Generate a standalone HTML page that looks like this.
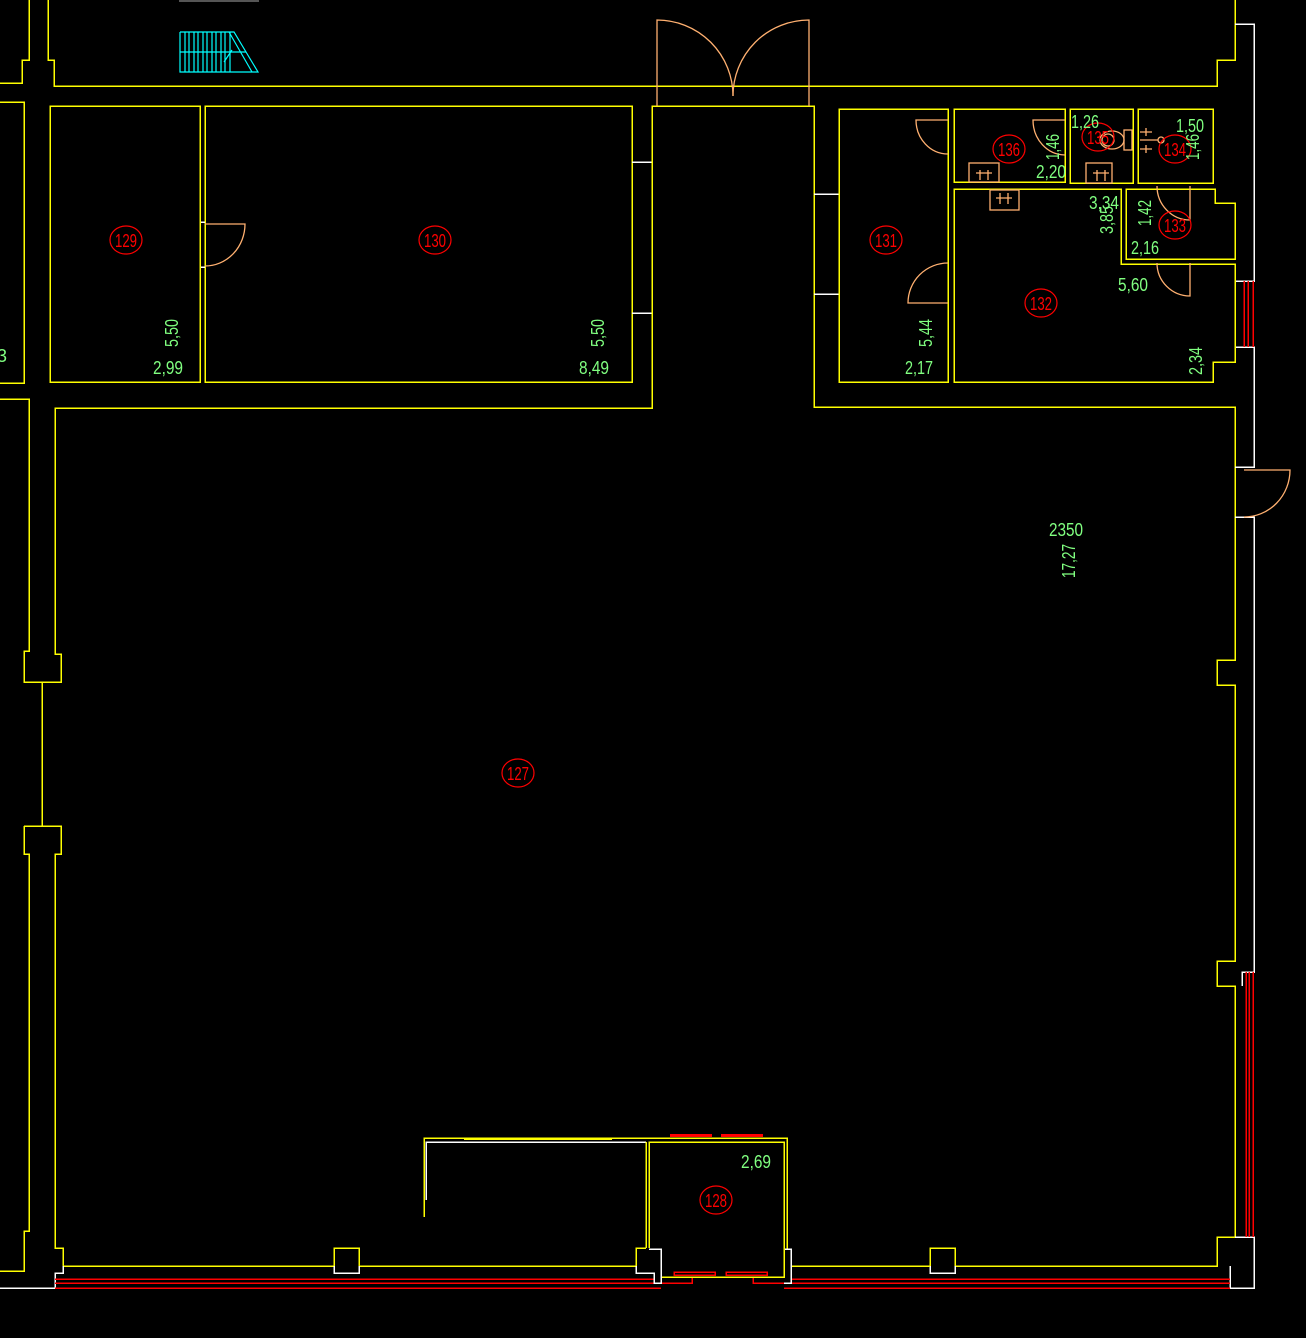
<!DOCTYPE html>
<html><head><meta charset="utf-8"><style>
html,body{margin:0;padding:0;background:#000;}
svg{display:block;}
text{font-family:"Liberation Sans",sans-serif;}
.g{fill:#80ff80;font-size:18px;}
.r{fill:#ff0000;font-size:18px;}
</style></head><body>
<svg width="1306" height="1338" viewBox="0 0 1306 1338" xmlns="http://www.w3.org/2000/svg">
<rect width="1306" height="1338" fill="#000"/>
<g fill="none" stroke-width="1.5" shape-rendering="crispEdges">
<!-- top gray bar -->
<rect x="179" y="0" width="80" height="2" fill="#555" stroke="none"/>
<!-- top-left stubs -->
<polyline stroke="#ffff00" points="29,0 29,60 22,60 22,83 0,83"/>
<polyline stroke="#ffff00" points="48,0 48,60 54,60 54,86 1217,86 1217,60 1235,60 1235,0"/>
<!-- left block -->
<polyline stroke="#ffff00" points="0,102 24,102 24,383 0,383"/>
<!-- rooms 129/130 -->
<rect stroke="#ffff00" x="50" y="106" width="150" height="276"/>
<rect stroke="#ffff00" x="205" y="106" width="427" height="276"/>
<line stroke="#fff" x1="632" y1="162" x2="652" y2="162"/>
<line stroke="#fff" x1="632" y1="313" x2="652" y2="313"/>
<line stroke="#fff" x1="201" y1="222" x2="205" y2="222"/>
<line stroke="#fff" x1="201" y1="267" x2="205" y2="267"/>
<!-- corridor + main room outline -->
<polyline stroke="#ffff00" points="0,399 29,399 29,651 24,651 24,682 61,682 61,654 55,654 55,408 652,408 652,106 814,106 814,407 1235,407 1235,660 1217,660 1217,685 1235,685 1235,961 1217,961 1217,986 1235,986 1235,1237 1217,1237 1217,1266 955,1266"/>
<line stroke="#ffff00" x1="42" y1="682" x2="42" y2="826"/>
<polyline stroke="#ffff00" points="24,826 61,826 61,854 55,854 55,1248 63,1248 63,1266 334,1266"/>
<polyline stroke="#ffff00" points="24,826 24,854 29,854 29,1231 24,1231 24,1271 0,1271"/>
<polyline stroke="#ffff00" points="334,1266 334,1248 359,1248 359,1266 636,1266"/>
<polyline stroke="#fff" points="334,1266 334,1273 359,1273 359,1266"/>
<polyline stroke="#ffff00" points="930,1266 930,1248 955,1248 955,1266"/>
<polyline stroke="#fff" points="930,1266 930,1273 955,1273 955,1266"/>
<line stroke="#ffff00" x1="791" y1="1266" x2="930" y2="1266"/>
<polyline stroke="#fff" points="63,1266 63,1273 55,1273 55,1288 0,1288"/>
<!-- white outer right wall -->
<polyline stroke="#fff" points="1235,24 1254,24 1254,281 1235,281"/>
<polyline stroke="#fff" points="1235,347 1254,347 1254,467 1235,467"/>
<polyline stroke="#fff" points="1235,517 1254,517 1254,972 1242,972 1242,986"/>
<polyline stroke="#fff" points="1235,1237 1254,1237 1254,1288 1230,1288 1230,1266"/>
<!-- red windows right -->
<line stroke="#ff0000" x1="1244" y1="281" x2="1244" y2="347"/>
<line stroke="#ff0000" x1="1248" y1="281" x2="1248" y2="347"/>
<line stroke="#ff0000" x1="1253" y1="281" x2="1253" y2="347"/>
<line stroke="#ff0000" x1="1246" y1="972" x2="1246" y2="1237"/>
<line stroke="#ff0000" x1="1249" y1="972" x2="1249" y2="1237"/>
<line stroke="#ff0000" x1="1253" y1="972" x2="1253" y2="1237"/>
<!-- red bottom lines -->
<line stroke="#ff0000" x1="55" y1="1279" x2="654" y2="1279"/>
<line stroke="#ff0000" x1="55" y1="1283" x2="654" y2="1283"/>
<line stroke="#ff0000" x1="55" y1="1288" x2="661" y2="1288"/>
<line stroke="#ff0000" x1="791" y1="1279" x2="1230" y2="1279"/>
<line stroke="#ff0000" x1="791" y1="1283" x2="1230" y2="1283"/>
<line stroke="#ff0000" x1="784" y1="1288" x2="1230" y2="1288"/>
<polyline stroke="#ff0000" points="661,1283 692,1283 692,1277"/>
<polyline stroke="#ff0000" points="784,1283 753,1283 753,1277"/>
<!-- corridor right white ticks / room 131 -->
<line stroke="#fff" x1="814" y1="194" x2="839" y2="194"/>
<line stroke="#fff" x1="814" y1="294" x2="839" y2="294"/>
<rect stroke="#ffff00" x="839" y="109" width="109" height="273"/>
<rect stroke="#ffff00" x="954" y="109" width="111" height="73"/>
<rect stroke="#ffff00" x="1070" y="109" width="63" height="74"/>
<rect stroke="#ffff00" x="1138" y="109" width="75" height="74"/>
<polygon stroke="#ffff00" points="1126,189 1215,189 1215,203 1235,203 1235,259 1126,259"/>
<polygon stroke="#ffff00" points="954,189 1121,189 1121,264 1235,264 1235,362 1213,362 1213,382 954,382"/>
<!-- bottom box and room 128 -->
<polyline stroke="#ffff00" points="424,1217 424,1138 787,1138 787,1249"/>
<polyline stroke="#fff" points="426,1200 426,1142 646,1142"/>
<line stroke="#ffff00" x1="464" y1="1139" x2="612" y2="1139" stroke-width="2"/>
<line stroke="#ffff00" x1="646" y1="1142" x2="646" y2="1248"/>
<polyline stroke="#ffff00" points="649,1248 649,1142 784,1142 784,1277 661,1277"/>
<polyline stroke="#ffff00" points="646,1248 636,1248 636,1266"/>
<polyline stroke="#fff" points="636,1266 636,1273 654,1273 654,1283 661,1283 661,1249 649,1249"/>
<polyline stroke="#fff" points="785,1249 791,1249 791,1283 784,1283"/>
<rect fill="#ff0000" stroke="none" x="670" y="1134" width="42" height="3"/>
<rect fill="#ff0000" stroke="none" x="721" y="1134" width="42" height="3"/>
<rect stroke="#ff0000" x="674" y="1272" width="41" height="3"/>
<rect stroke="#ff0000" x="726" y="1272" width="41" height="3"/>
</g>
<!-- stairs -->
<g stroke="#00ffff" stroke-width="1.2" fill="none">
<polyline points="180,32 234,32 258,72 180,72 180,32"/>
<line x1="180" y1="52" x2="246" y2="52"/>
<line x1="185" y1="32" x2="185" y2="72"/><line x1="189" y1="32" x2="189" y2="72"/><line x1="194" y1="32" x2="194" y2="72"/><line x1="198" y1="32" x2="198" y2="72"/><line x1="203" y1="32" x2="203" y2="72"/><line x1="207" y1="32" x2="207" y2="72"/><line x1="212" y1="32" x2="212" y2="72"/><line x1="216" y1="32" x2="216" y2="72"/><line x1="221" y1="32" x2="221" y2="72"/><line x1="225" y1="32" x2="225" y2="72"/><line x1="230" y1="32" x2="230" y2="72"/>
<line x1="229" y1="32" x2="252" y2="72"/>
<line x1="232" y1="50" x2="224" y2="62"/>
</g>
<!-- doors (orange) -->
<g stroke="#ffb070" stroke-width="1.3" fill="none">
<path d="M657,106 V20 A76,76 0 0 1 733,96"/>
<path d="M809,106 V20 A76,76 0 0 0 733,96"/>
<path d="M205,224 H245 A40,42 0 0 1 205,266"/>
<path d="M948,120 H916 A32,34 0 0 0 948,154"/>
<path d="M948,303 H908 A40,40 0 0 1 948,263"/>
<path d="M1065,120 H1033 A32,35 0 0 0 1065,155"/>
<path d="M1190,186 V220 A33,34 0 0 1 1157,186"/>
<path d="M1190,263 V296 A33,33 0 0 1 1157,263"/>
<path d="M1244,470 H1290 A46,47 0 0 1 1244,517"/>
<rect x="969" y="163" width="30" height="19"/>
<rect x="1086" y="163" width="26" height="20"/>
<rect x="990" y="190" width="29" height="20"/>
<path d="M980,170 V180 M976,173 H984 M988,170 V180 M984,173 H992"/>
<path d="M1097,170 V181 M1093,173 H1101 M1105,170 V181 M1101,173 H1109"/>
<path d="M1000,193 V204 M996,198 H1004 M1008,193 V204 M1004,198 H1012"/>
<ellipse cx="1112" cy="140" rx="12" ry="9"/>
<ellipse cx="1108" cy="140" rx="6" ry="6"/>
<rect x="1124" y="130" width="8" height="20"/>
<path d="M1140,132 H1152 M1146,128 V136 M1140,140 H1158 M1140,149 H1152 M1146,145 V153"/>
<circle cx="1161" cy="140" r="3"/>
</g>
<!-- room numbers -->
<g stroke="#ff0000" stroke-width="1.2" fill="none">
<ellipse cx="126" cy="240" rx="16" ry="14"/>
<ellipse cx="435" cy="240" rx="16" ry="14"/>
<ellipse cx="886" cy="240" rx="16" ry="14"/>
<ellipse cx="1041" cy="303" rx="16" ry="14"/>
<ellipse cx="1175" cy="225" rx="16" ry="14"/>
<ellipse cx="1175" cy="149" rx="16" ry="14"/>
<ellipse cx="1098" cy="137" rx="16" ry="14"/>
<ellipse cx="1009" cy="149" rx="16" ry="14"/>
<ellipse cx="518" cy="773" rx="16" ry="14"/>
<ellipse cx="716" cy="1200" rx="16" ry="14"/>
</g>
<g class="r" text-anchor="middle">
<text x="126" y="247" textLength="22" lengthAdjust="spacingAndGlyphs">129</text>
<text x="435" y="247" textLength="22" lengthAdjust="spacingAndGlyphs">130</text>
<text x="886" y="247" textLength="22" lengthAdjust="spacingAndGlyphs">131</text>
<text x="1041" y="310" textLength="22" lengthAdjust="spacingAndGlyphs">132</text>
<text x="1175" y="232" textLength="22" lengthAdjust="spacingAndGlyphs">133</text>
<text x="1175" y="156" textLength="22" lengthAdjust="spacingAndGlyphs">134</text>
<text x="1098" y="144" textLength="22" lengthAdjust="spacingAndGlyphs">135</text>
<text x="1009" y="156" textLength="22" lengthAdjust="spacingAndGlyphs">136</text>
<text x="518" y="780" textLength="22" lengthAdjust="spacingAndGlyphs">127</text>
<text x="716" y="1207" textLength="22" lengthAdjust="spacingAndGlyphs">128</text>
</g>
<!-- dimensions -->
<g class="g" text-anchor="middle">
<text x="168" y="374" textLength="30" lengthAdjust="spacingAndGlyphs">2,99</text>
<text x="594" y="374" textLength="30" lengthAdjust="spacingAndGlyphs">8,49</text>
<text x="919" y="374" textLength="28" lengthAdjust="spacingAndGlyphs">2,17</text>
<text x="1051" y="178" textLength="30" lengthAdjust="spacingAndGlyphs">2,20</text>
<text x="1085" y="128" textLength="28" lengthAdjust="spacingAndGlyphs">1,26</text>
<text x="1190" y="132" textLength="28" lengthAdjust="spacingAndGlyphs">1,50</text>
<text x="1104" y="209" textLength="30" lengthAdjust="spacingAndGlyphs">3,34</text>
<text x="1145" y="254" textLength="28" lengthAdjust="spacingAndGlyphs">2,16</text>
<text x="1133" y="291" textLength="30" lengthAdjust="spacingAndGlyphs">5,60</text>
<text x="1066" y="536" textLength="34" lengthAdjust="spacingAndGlyphs">2350</text>
<text x="756" y="1168" textLength="30" lengthAdjust="spacingAndGlyphs">2,69</text>
<text transform="translate(178,333) rotate(-90)" textLength="28" lengthAdjust="spacingAndGlyphs">5,50</text>
<text transform="translate(604,333) rotate(-90)" textLength="28" lengthAdjust="spacingAndGlyphs">5,50</text>
<text transform="translate(932,333) rotate(-90)" textLength="28" lengthAdjust="spacingAndGlyphs">5,44</text>
<text transform="translate(1059,147) rotate(-90)" textLength="26" lengthAdjust="spacingAndGlyphs">1,46</text>
<text transform="translate(1199,147) rotate(-90)" textLength="26" lengthAdjust="spacingAndGlyphs">1,46</text>
<text transform="translate(1113,220) rotate(-90)" textLength="28" lengthAdjust="spacingAndGlyphs">3,85</text>
<text transform="translate(1151,213) rotate(-90)" textLength="26" lengthAdjust="spacingAndGlyphs">1,42</text>
<text transform="translate(1202,361) rotate(-90)" textLength="28" lengthAdjust="spacingAndGlyphs">2,34</text>
<text transform="translate(1075,561) rotate(-90)" textLength="34" lengthAdjust="spacingAndGlyphs">17,27</text>
<text x="2" y="362" textLength="10" lengthAdjust="spacingAndGlyphs">3</text>
</g>
</svg>
</body></html>
